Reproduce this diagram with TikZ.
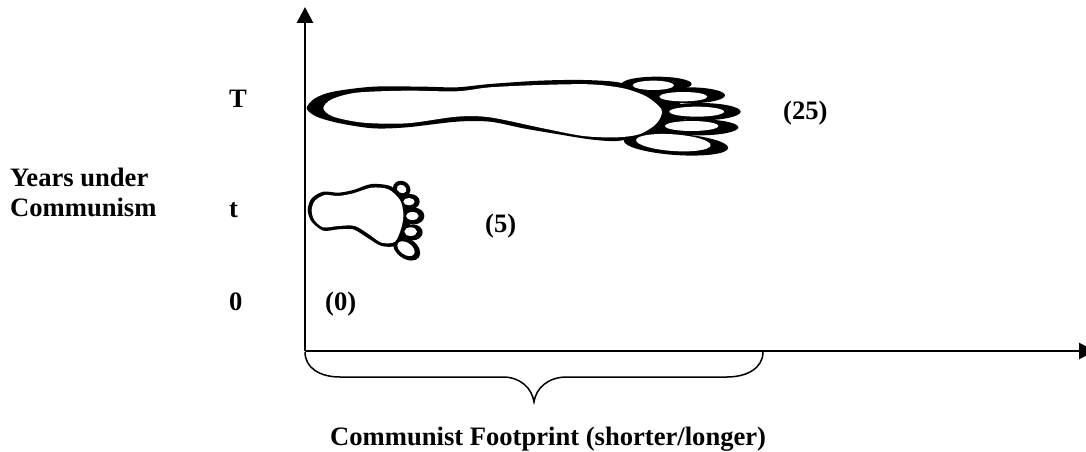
\documentclass[tikz,border=0pt]{standalone}
\usepackage{fontspec}
\setmainfont{Liberation Serif}
\usetikzlibrary{arrows.meta}
\tikzset{
  lab/.style={inner sep=0pt,anchor=base west,font=\fontsize{26.6}{30}\selectfont\bfseries,align=left},
  axis/.style={line width=2.8pt,-{Triangle[length=16pt,width=16pt]}},
  brace/.style={line width=1.5pt},
  outer/.style={fill=black,draw=none},
  inner/.style={fill=white,draw=none}
}
\begin{document}
\begin{tikzpicture}[x=1pt,y=-1pt]
\useasboundingbox (0,0) rectangle (1086,452);
\fill[white] (0,0) rectangle (1086,452);
% axes
\coordinate (o) at (305,351);
\coordinate (ytop) at (305,7);
\coordinate (xend) at (1095,351);
\draw[axis] (o) -- (ytop);
\draw[axis] (o) -- (xend);
% brace
\coordinate (bl) at (305,352);
\coordinate (br) at (763,352);
\coordinate (btip) at (534,402);
\draw[brace] (bl) .. controls (305,368) and (320,377) .. (340,377) -- (503,377)
  .. controls (520,377) and (532,388) .. (btip)
  .. controls (536,388) and (548,377) .. (567,377) -- (727,377)
  .. controls (747,377) and (763,368) .. (br);
% big foot
\begin{scope}[shift={(290,60)},scale=1/3]
\fill[outer] (1100,72) ellipse [x radius=105,y radius=22];
\fill[outer] (1197,106) ellipse [x radius=108,y radius=24];
\fill[outer] (1231,155) ellipse [x radius=121,y radius=26];
\fill[outer] (1228,202) ellipse [x radius=117,y radius=24];
\fill[outer,rotate around={-4:(1158,253)}] (1158,253) ellipse [x radius=157,y radius=32];
\fill[outer] (1000,72) -- (1130,90) -- (1190,150) -- (1170,225) -- (1010,245) -- cycle;
\fill[outer] plot[smooth cycle] coordinates {(50,145)(75,115)(130,95)(250,80)(400,80)(500,82)(600,72)(750,62)(880,60)(990,68)(1070,100)(1125,150)(1105,195)(1050,228)(980,243)(900,238)(800,222)(700,205)(600,185)(500,185)(350,202)(250,205)(150,190)(80,170)};
\fill[inner] plot[smooth cycle] coordinates {(100,145)(125,118)(200,98)(350,92)(500,94)(600,82)(750,75)(900,73)(1000,85)(1070,110)(1115,150)(1100,190)(1050,222)(980,232)(880,228)(760,205)(600,172)(500,170)(350,190)(220,188)(130,170)};
\fill[inner] (1090,76) ellipse [x radius=62,y radius=14];
\fill[inner] (1180,110) ellipse [x radius=72,y radius=14];
\fill[inner] (1220,155) ellipse [x radius=82,y radius=15];
\fill[inner] (1205,198) ellipse [x radius=80,y radius=15];
\fill[inner,rotate around={-4:(1150,248)}] (1150,248) ellipse [x radius=112,y radius=25];
\end{scope}
% small foot
\begin{scope}[shift={(295,170)},scale=1/3]
\fill[outer,rotate around={-30:(320,57)}] (320,57) ellipse [x radius=27,y radius=24];
\fill[outer] (346,95) ellipse [x radius=28,y radius=23];
\fill[outer] (357,138) ellipse [x radius=31,y radius=25];
\fill[outer] (353,187) ellipse [x radius=30,y radius=24];
\fill[outer,rotate around={-35:(335,236)}] (335,236) ellipse [x radius=45,y radius=30];
\fill[outer] (300,60) -- (345,100) -- (345,190) -- (310,225) -- cycle;
\fill[outer] plot[smooth cycle] coordinates {(38,120)(50,85)(85,65)(130,68)(175,60)(230,42)(290,50)(320,90)(335,130)(330,170)(305,225)(260,228)(220,205)(175,178)(130,178)(85,182)(50,155)};
\fill[inner] plot[smooth cycle] coordinates {(50,120)(60,92)(90,75)(130,78)(175,70)(230,53)(280,58)(315,90)(325,130)(320,170)(300,215)(260,218)(225,195)(180,168)(130,168)(85,172)(58,150)};
\fill[inner,rotate around={-30:(320,57)}] (320,57) ellipse [x radius=15,y radius=12];
\fill[inner] (342,95) ellipse [x radius=17,y radius=11];
\fill[inner] (352,138) ellipse [x radius=19,y radius=12];
\fill[inner] (347,185) ellipse [x radius=19,y radius=13];
\fill[inner,rotate around={-35:(333,236)}] (333,236) ellipse [x radius=29,y radius=18];
\end{scope}
% labels
\node[lab] (lT) at (229,107) {T};
\node[lab] (lt) at (229,217) {t};
\node[lab] (l0) at (229,310) {0};
\node[lab] (ly1) at (10,186) {Years under};
\node[lab] (ly2) at (10,216) {Communism};
\node[lab] (l25) at (783,119) {(25)};
\node[lab] (l5) at (485,232) {(5)};
\node[lab] (l00) at (325,310) {(0)};
\node[lab] (lx) at (330,445) {Communist Footprint (shorter/longer)};
\end{tikzpicture}
\end{document}
